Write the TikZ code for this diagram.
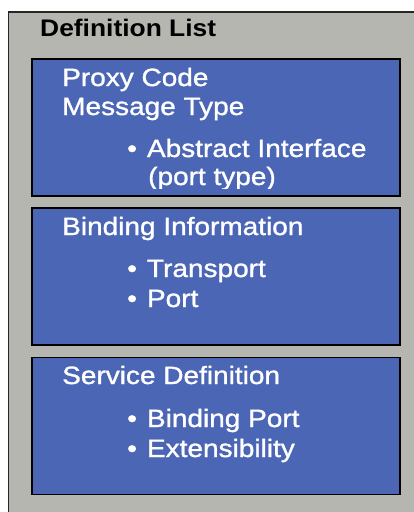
\documentclass[tikz,border=0pt]{standalone}
\usepackage{fontspec}
\setmainfont{Liberation Sans}
\newfontfamily\wfont[FakeStretch=1.1]{Liberation Sans}
\newfontfamily\whitefont[FakeStretch=1.12,FakeBold=1.2]{Liberation Sans}
\definecolor{panelgray}{RGB}{182,182,176}
\definecolor{boxblue}{RGB}{76,102,182}
\tikzset{
  outerpanel/.style={draw=black!85, line width=1.5pt, fill=panelgray},
  bluebox/.style={draw=black, line width=1.5pt, fill=boxblue, inner sep=0pt, anchor=north west, minimum width=368pt, minimum height=137pt},
  titletext/.style={anchor=base west, inner sep=0pt, text=black, font=\wfont\bfseries\fontsize{24}{24}\selectfont},
  headtext/.style={anchor=base west, inner sep=0pt, text=white, font=\whitefont\fontsize{25}{25}\selectfont},
  itemtext/.style={anchor=base west, inner sep=0pt, text=white, font=\whitefont\fontsize{25}{25}\selectfont}
}
\newcommand{\bul}{\textbullet\hspace{10pt}}
\begin{document}
\begin{tikzpicture}[x=1pt,y=-1pt]
\useasboundingbox (0,0) rectangle (414,512);
\fill[white] (0,0) rectangle (414,512);
\begin{scope}
\clip (0,0) rectangle (414,512);
\draw[outerpanel] (8.5,12) rectangle (430,530);
\end{scope}
\node[titletext] (title) at (40,36) {Definition List};
% boxes
\node[bluebox] (b1) at (31,58) {};
\node[bluebox] (b2) at (31,207) {};
\node[bluebox] (b3) at (31,356.5) {};
% box 1 text
\begin{scope}
\clip (31,58) rectangle (399,188.5);
\node[headtext] (h1a) at (62,86) {Proxy Code};
\node[headtext] (h1b) at (62,115) {Message Type};
\node[itemtext] (i1a) at (127,157) {\bul Abstract Interface};
\node[itemtext] (i1b) at (148,185) {(port type)};
\end{scope}
% box 2 text
\node[headtext] (h2) at (62,235) {Binding Information};
\node[itemtext] (i2a) at (127,277) {\bul Transport};
\node[itemtext] (i2b) at (127,307) {\bul Port};
% box 3 text
\node[headtext] (h3) at (62,384) {Service Definition};
\node[itemtext] (i3a) at (127,427) {\bul Binding Port};
\node[itemtext] (i3b) at (127,457) {\bul Extensibility};
\end{tikzpicture}
\end{document}
